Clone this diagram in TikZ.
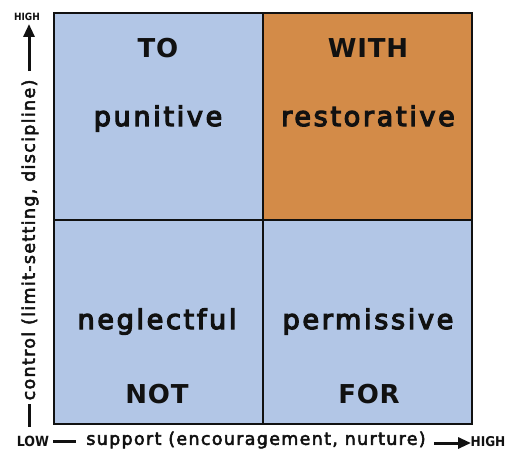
\documentclass[tikz,border=0pt]{standalone}
\usepackage{fontspec}
\setmainfont{DejaVu Sans}
\newfontfamily\bigf[LetterSpace=10,FakeBold=4.5]{DejaVu Sans}
\newfontfamily\capf[LetterSpace=3]{DejaVu Sans Bold}
\newfontfamily\axf[LetterSpace=7.5,FakeBold=3]{DejaVu Sans}
\newfontfamily\tinyf{DejaVu Sans Condensed Bold}
\usetikzlibrary{arrows.meta}
\definecolor{qblue}{HTML}{B2C6E6}
\definecolor{qorange}{HTML}{D38B48}
\definecolor{ink}{HTML}{111111}
\begin{document}
\begin{tikzpicture}[x=1pt,y=-1pt,
  quad/.style={draw=ink,line width=2pt},
  big/.style={font=\bigf\fontsize{27}{30}\selectfont,text=ink,anchor=base,inner sep=0pt},
  bigcap/.style={font=\capf\fontsize{26}{30}\selectfont,text=ink,anchor=base,inner sep=0pt},
  axlab/.style={font=\axf\fontsize{17.5}{20}\selectfont,text=ink,inner sep=0pt},
  tiny/.style={text=ink,inner sep=0pt},
  axline/.style={draw=ink,line width=3pt},
  axarrow/.style={draw=ink,line width=3pt,-{Triangle[length=13pt,width=11pt]}}]
\useasboundingbox (0,0) rectangle (508,452);
\fill[white] (0,0) rectangle (508,452);
% quadrants
\fill[qblue] (54,13) rectangle (263,220);
\fill[qorange] (263,13) rectangle (472,220);
\fill[qblue] (54,220) rectangle (263,424);
\fill[qblue] (263,220) rectangle (472,424);
\draw[quad] (54,13) rectangle (472,424);
\draw[quad] (263,13) -- (263,424);
\draw[quad] (54,220) -- (472,220);
% texts
\node[bigcap] (to) at (158,58) {TO};
\node[big] (pun) at (158,126) {punitive};
\node[bigcap] (with) at (368,58) {WITH};
\node[big] (res) at (368,126) {restorative};
\node[big] (neg) at (157,329) {neglectful};
\node[big] (perm) at (368,329) {permissive};
\node[bigcap] (not) at (157,403) {NOT};
\node[bigcap] (for) at (369,403) {FOR};
% axes
\node[tiny,font=\tinyf\fontsize{14}{16}\selectfont] (low) at (33,441) {LOW};
\node[tiny,font=\tinyf\fontsize{13.5}{16}\selectfont] (hx) at (488,442) {HIGH};
\node[tiny,font=\tinyf\fontsize{10}{12}\selectfont] (hy) at (27,17) {HIGH};
\node[axlab] (sx) at (256,440) {support (encouragement, nurture)};
\node[axlab,rotate=90] (sy) at (30,240) {control (limit-setting, discipline)};
\coordinate (xd1) at (53,441);
\coordinate (xd2) at (76,441);
\coordinate (xa1) at (434,443);
\coordinate (xa2) at (471,443);
\coordinate (yd1) at (29,404);
\coordinate (yd2) at (29,427);
\coordinate (ya1) at (29,71);
\coordinate (ya2) at (29,24);
\draw[axline] (xd1) -- (xd2);
\draw[axline] (yd1) -- (yd2);
\draw[axarrow] (xa1) -- (xa2);
\draw[axarrow] (ya1) -- (ya2);
\end{tikzpicture}
\end{document}
